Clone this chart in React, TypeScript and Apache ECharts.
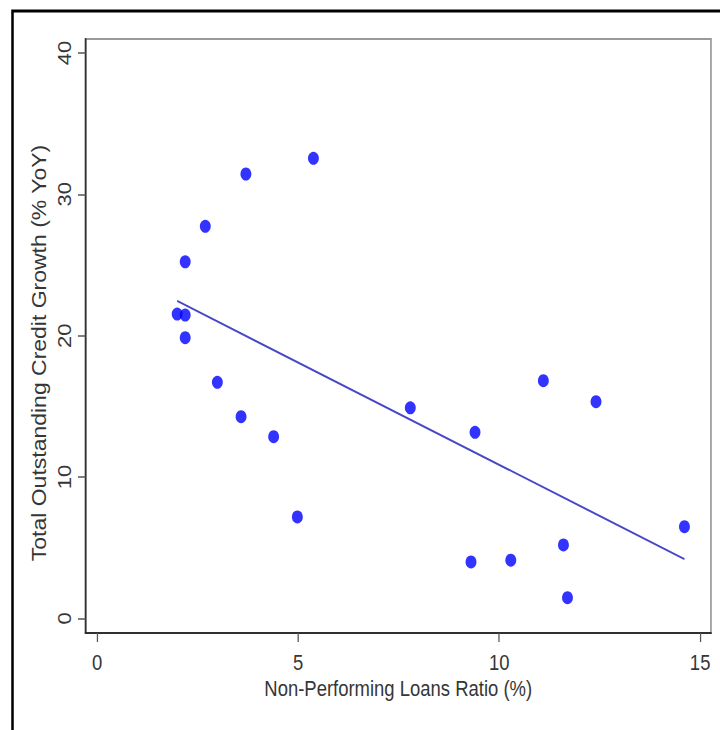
import React, { useEffect, useRef } from "react";
import * as echarts from "echarts";

// Non-Performing Loans Ratio (%)
const nplRatio = [1.99, 2.19, 2.19, 2.19, 2.69, 3.70, 5.38, 2.99, 3.58, 4.39, 4.98, 7.79, 9.40, 9.30, 10.29, 11.10, 12.41, 11.60, 11.70, 14.61];
// Total Outstanding Credit Growth (% YoY)
const creditGrowth = [21.53, 21.46, 25.23, 19.86, 27.74, 31.44, 32.55, 16.7, 14.27, 12.86, 7.18, 14.9, 13.17, 4.0, 4.12, 16.82, 15.33, 5.2, 1.47, 6.49];
// Linear fit endpoints
const fitX = [1.99, 14.61];
const fitY = [22.46, 4.2];

const xTicks = [0, 5, 10, 15];
const yTicks = [0, 10, 20, 30, 40];

const W = 720;
const H = 730;
const SX = 0.84;
const CW = Math.round(W / SX);

export default function App() {
  const ref = useRef<HTMLDivElement>(null);
  useEffect(() => {
    document.body.style.margin = "0";
    const chart = echarts.init(ref.current!, null, { renderer: "svg", width: CW, height: H });
    const font = "'Liberation Sans', Arial, sans-serif";
    const textColor = "#363636";
    chart.setOption({
      animation: false,
      backgroundColor: "#ffffff",
      graphic: [
        {
          type: "rect",
          shape: { x: 12.5 / SX, y: 11, width: 2000, height: 2000 },
          style: { fill: "none", stroke: "#000", lineWidth: 3 },
          silent: true,
          z: 100,
        },
      ],
      grid: {
        left: 101.8,
        right: CW - 846.4,
        top: 39,
        bottom: H - 633,
        show: true,
        borderColor: "#9a9a9a",
        borderWidth: 2,
        backgroundColor: "transparent",
      },
      xAxis: {
        type: "value",
        min: -0.29,
        max: 15.27,
        splitLine: { show: false },
        axisLine: { show: true, onZero: false, lineStyle: { color: "#303030", width: 2 } },
        axisTick: { show: true, customValues: xTicks, length: 9, lineStyle: { color: "#555", width: 1.5 } },
        axisLabel: { customValues: xTicks, margin: 18, fontSize: 22, color: textColor, fontFamily: font },
        name: "Non-Performing Loans Ratio (%)",
        nameLocation: "middle",
        nameGap: 40,
        nameTextStyle: { fontSize: 22, color: textColor, fontFamily: font },
      },
      yAxis: {
        type: "value",
        min: -1.03,
        max: 40.99,
        splitLine: { show: false },
        axisLine: { show: true, onZero: false, lineStyle: { color: "#303030", width: 2 } },
        axisTick: { show: true, customValues: yTicks, length: 9, lineStyle: { color: "#555", width: 1.5 } },
        axisLabel: { customValues: yTicks, rotate: 90, margin: 14, fontSize: 22, color: textColor, fontFamily: font },
        name: "Total Outstanding Credit Growth (% YoY)",
        nameLocation: "middle",
        nameGap: 36,
        nameRotate: 90,
        nameTextStyle: { fontSize: 23, color: textColor, fontFamily: font, padding: [0, 34, 0, 0] },
      },
      series: [
        {
          type: "scatter",
          data: nplRatio.map((x, i) => [x, creditGrowth[i]]),
          symbol: "circle",
          symbolSize: 13,
          itemStyle: { color: "#0000ff" },
          z: 2,
        },
        {
          type: "line",
          data: fitX.map((x, i) => [x, fitY[i]]),
          showSymbol: false,
          symbol: "none",
          lineStyle: { color: "#4646c8", width: 2 },
          z: 3,
        },
      ],
    });
    return () => chart.dispose();
  }, []);
  return (
    <div style={{ position: "absolute", left: 0, top: 0, width: W, height: H, overflow: "hidden", background: "#fff" }}>
      <div
        ref={ref}
        style={{ width: CW, height: H, transform: `scaleX(${SX})`, transformOrigin: "0 0" }}
      />
    </div>
  );
}
